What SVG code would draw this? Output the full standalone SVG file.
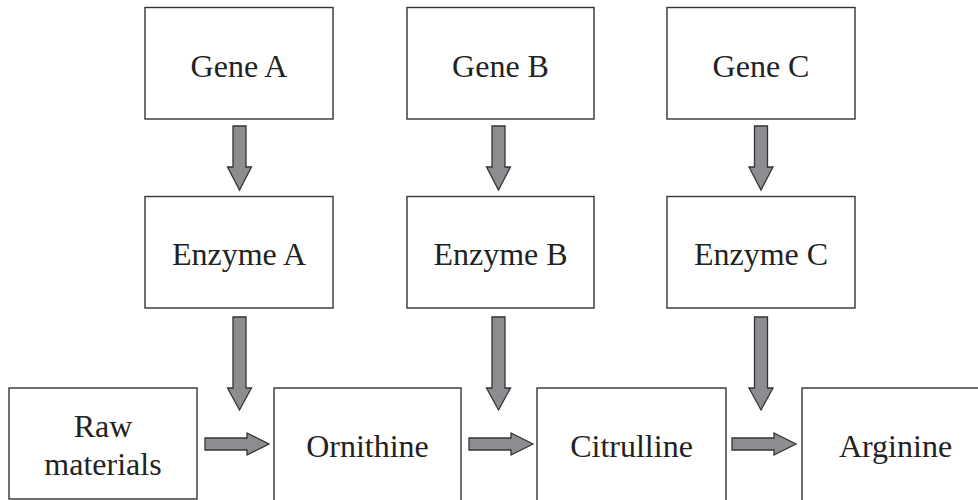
<svg xmlns="http://www.w3.org/2000/svg" width="978" height="500" viewBox="0 0 978 500">
<style>
.box{fill:#fff;stroke:#333;stroke-width:1.4}
.lbl{font-family:"Liberation Serif","Times New Roman",serif;font-size:32px;fill:#222;text-anchor:middle}
.arr{fill:#8c8d91;stroke:#333;stroke-width:1.3;stroke-linejoin:miter}
</style>
<rect width="978" height="500" fill="#fff"/>
<defs>
<polygon id="va" points="-6.5,0 6.5,0 6.5,41 12,41 0,64 -12,41 -6.5,41"/>
<polygon id="vb" points="-6.5,0 6.5,0 6.5,71 12,71 0,93 -12,71 -6.5,71"/>
<polygon id="ha" points="0,-6 42,-6 42,-11 64,0 42,11 42,6 0,6"/>
</defs>
<g id="geneA"><rect class="box" x="145" y="7.5" width="188" height="111.5"/><text class="lbl" x="239" y="77">Gene A</text></g>
<g id="geneB"><rect class="box" x="407" y="7.5" width="187" height="111.5"/><text class="lbl" x="500.5" y="77">Gene B</text></g>
<g id="geneC"><rect class="box" x="667" y="7.5" width="188" height="111.5"/><text class="lbl" x="761" y="77">Gene C</text></g>
<g id="enzymeA"><rect class="box" x="145" y="196.5" width="188" height="111.5"/><text class="lbl" x="239" y="265">Enzyme A</text></g>
<g id="enzymeB"><rect class="box" x="407" y="196.5" width="187" height="111.5"/><text class="lbl" x="500.5" y="265">Enzyme B</text></g>
<g id="enzymeC"><rect class="box" x="667" y="196.5" width="188" height="111.5"/><text class="lbl" x="761" y="265">Enzyme C</text></g>
<g id="raw"><rect class="box" x="9" y="388" width="188" height="111"/><text class="lbl" x="103" y="437">Raw</text><text class="lbl" x="103" y="475">materials</text></g>
<g id="ornithine"><rect class="box" x="274" y="388" width="187" height="115"/><text class="lbl" x="367.5" y="457">Ornithine</text></g>
<g id="citrulline"><rect class="box" x="537" y="388" width="189" height="115"/><text class="lbl" x="631.5" y="457">Citrulline</text></g>
<g id="arginine"><rect class="box" x="802" y="388" width="190" height="115"/><text class="lbl" x="895.5" y="457">Arginine</text></g>
<g id="connectors">
<use href="#va" class="arr" x="239.5" y="126"/>
<use href="#va" class="arr" x="498.5" y="126"/>
<use href="#va" class="arr" x="761" y="126"/>
<use href="#vb" class="arr" x="239.5" y="317"/>
<use href="#vb" class="arr" x="498.5" y="317"/>
<use href="#vb" class="arr" x="761" y="317"/>
<use href="#ha" class="arr" x="205" y="444"/>
<use href="#ha" class="arr" x="469" y="444"/>
<use href="#ha" class="arr" x="732" y="444"/>
</g>
</svg>
